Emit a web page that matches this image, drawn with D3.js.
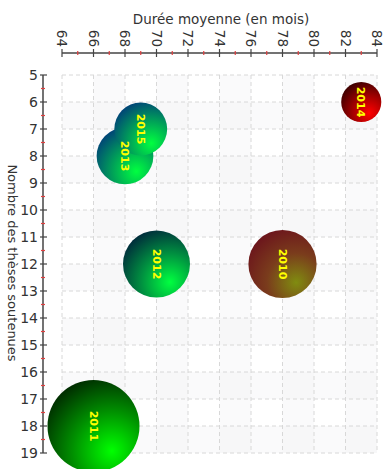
<!DOCTYPE html>
<html><head><meta charset="utf-8">
<script src="https://cdn.jsdelivr.net/npm/d3@7/dist/d3.min.js"></script>
<style>body{margin:0;background:#fff}svg{display:block}</style>
</head><body>
<script>
const years = ["2010","2011","2012","2013","2014","2015"];
const dureeMoyenne = [78, 66, 70, 68, 83, 69];
const nombreTheses = [12, 18, 12, 8, 6, 7];
const bubbleSize = [55, 100, 53, 38, 19, 33];
const xTicks = [64,66,68,70,72,74,76,78,80,82,84];
const yTicks = [5,6,7,8,9,10,11,12,13,14,15,16,17,18,19];
const gradients = [
  ["#808c10", "#7a3c1c", "#680a1c"],
  ["#00ff00", "#009000", "#001000"],
  ["#00ff40", "#009040", "#00103a"],
  ["#00ff40", "#00a058", "#002a80"],
  ["#ff0000", "#a00000", "#200000"],
  ["#00ff40", "#00a058", "#002a80"]
];

const W = 391, H = 469;
const svg = d3.select("body").append("svg").attr("width", W).attr("height", H);
const font = "DejaVu Sans, Verdana, sans-serif";

const x = d3.scaleLinear().domain([64, 84]).range([62, 377]);
const y = d3.scaleLinear().domain([5, 19]).range([75, 453]);
const r = d3.scaleSqrt().domain([0, 100]).range([0, 46]);

const defs = svg.append("defs");
gradients.forEach((g, i) => {
  const rg = defs.append("radialGradient").attr("id", "g" + i)
    .attr("cx", "0.7").attr("cy", "0.77").attr("r", "0.95")
    .attr("fx", "0.7").attr("fy", "0.77");
  rg.append("stop").attr("offset", "0").attr("stop-color", g[0]);
  rg.append("stop").attr("offset", "0.45").attr("stop-color", g[1]);
  rg.append("stop").attr("offset", "1").attr("stop-color", g[2]);
});
defs.append("clipPath").attr("id", "plotclip").append("rect")
  .attr("x", 40).attr("y", 60).attr("width", 351).attr("height", 409);

// checker bands
const bands = svg.append("g");
for (let v = 5; v < 19; v += 2) {
  bands.append("rect").attr("x", x(64)).attr("y", y(v + 1))
    .attr("width", x(84) - x(64)).attr("height", y(v + 2) - y(v + 1))
    .attr("fill", "#f3f3f6").attr("opacity", 0.4);
}
for (let v = 66; v < 84; v += 4) {
  bands.append("rect").attr("x", x(v)).attr("y", y(5))
    .attr("width", x(v + 2) - x(v)).attr("height", y(19) - y(5))
    .attr("fill", "#f3f3f6").attr("opacity", 0.4);
}

// grid
const grid = svg.append("g").attr("stroke", "#d8d8d8").attr("stroke-dasharray", "4,3").attr("stroke-width", 1);
xTicks.forEach(t => grid.append("line").attr("x1", x(t)).attr("x2", x(t)).attr("y1", y(5)).attr("y2", y(19)));
yTicks.forEach(t => grid.append("line").attr("x1", x(64)).attr("x2", x(84)).attr("y1", y(t)).attr("y2", y(t)));

// bubbles
const data = years.map((yr, i) => ({yr, i, x: dureeMoyenne[i], y: nombreTheses[i], s: bubbleSize[i]}));
const order = [1, 0, 2, 3, 5, 4];
const bub = svg.append("g").attr("clip-path", "url(#plotclip)");
bub.selectAll("circle").data(order.map(k => data[k])).join("circle")
  .attr("cx", d => x(d.x)).attr("cy", d => y(d.y))
  .attr("r", d => r(d.s)).attr("fill", d => `url(#g${d.i})`);

// X axis (top)
const xa = svg.append("g").attr("transform", "translate(0,53)");
xa.append("line").attr("x1", x(64)).attr("x2", x(84)).attr("stroke", "#444").attr("stroke-width", 1.5);
for (let v = 65; v < 84; v += 2) {
  xa.append("line").attr("x1", x(v)).attr("x2", x(v)).attr("y1", -2).attr("y2", 2).attr("stroke", "#e04040").attr("stroke-width", 1.2);
}
xa.selectAll("g.t").data(xTicks).join("g").attr("class", "t")
  .attr("transform", d => `translate(${x(d)},0)`)
  .each(function(d) {
    const g = d3.select(this);
    g.append("line").attr("y1", -4).attr("y2", 4).attr("stroke", "#444").attr("stroke-width", 1.2);
    g.append("text").attr("transform", "translate(0,-6) rotate(90)")
      .attr("text-anchor", "end").attr("dy", "0.35em")
      .attr("font-family", font).attr("font-size", 13.5).attr("fill", "#333").text(d);
  });

// Y axis (left)
const ya = svg.append("g").attr("transform", "translate(43,0)");
ya.append("line").attr("y1", y(5)).attr("y2", y(19)).attr("stroke", "#444").attr("stroke-width", 1.5);
for (let v = 5.5; v < 19; v += 1) {
  ya.append("line").attr("y1", y(v)).attr("y2", y(v)).attr("x1", -2).attr("x2", 2).attr("stroke", "#e04040").attr("stroke-width", 1.2);
}
ya.selectAll("g.t").data(yTicks).join("g").attr("class", "t")
  .attr("transform", d => `translate(0,${y(d)})`)
  .each(function(d) {
    const g = d3.select(this);
    g.append("line").attr("x1", -3).attr("x2", 4).attr("stroke", "#444").attr("stroke-width", 1.2);
    g.append("text").attr("x", -5).attr("text-anchor", "end").attr("dy", "0.35em")
      .attr("font-family", font).attr("font-size", 14).attr("fill", "#333").text(d);
  });

// titles
svg.append("text").attr("x", 221).attr("y", 24).attr("text-anchor", "middle")
  .attr("font-family", font).attr("font-size", 13.5).attr("fill", "#333").text("Durée moyenne (en mois)");
svg.append("text").attr("transform", "translate(13,263) rotate(90)").attr("text-anchor", "middle").attr("dy", "0.35em")
  .attr("font-family", font).attr("font-size", 13).attr("fill", "#333").text("Nombre des thèses soutenues");

// labels on top
svg.append("g").selectAll("text").data(data).join("text")
  .attr("transform", d => `translate(${x(d.x)},${y(d.y)}) rotate(90)`)
  .attr("text-anchor", "middle").attr("dy", "0.35em")
  .attr("font-family", font).attr("font-size", 11).attr("font-weight", "bold").attr("fill", "#ffff00")
  .text(d => d.yr);
</script>
</body></html>
